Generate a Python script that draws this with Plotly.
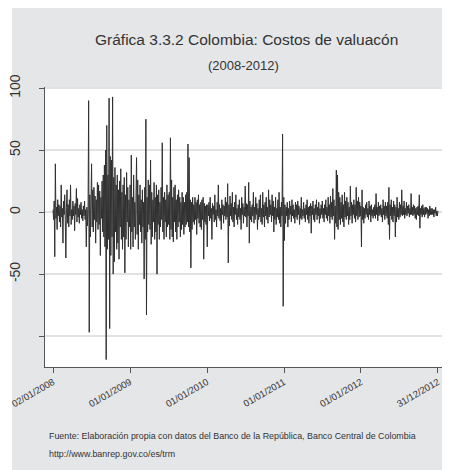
import pandas as pd
import plotly.graph_objects as go

v2008 = [2, -6, 9, -36, 39, -5, 4, -14, 10, -3, 6,
         -8, 5, -12, 22, -4, 3, -25, 9, -2, 14, -7,
         -37, 4, 18, -9, 6, -12, 10, -3, 22, -10, 2,
         -6, 9, -3, 5, -15, 7, -2, 19, -8, 11, -4,
         3, -9, 6, -2, 8, -5, 2, -7, 5, -3, 9,
         -6, 2, -28, 4, -11, 2, 90, -97, 14, -20, 8,
         39, -12, 18, -16, 20, -6, 13, -25, 10, -8, 24,
         -14, 22, -10, 17, -35, 12, -5, 25, -16, 30, -20,
         38, -28, 50, -119, 70, -30, 30, -22, 92, -94, 45,
         -35, 42, -20, 93, -50, 28, -40, 36, -16, 22, -30,
         30, -25, 18, -38, 25, -12, 35, -22, 16, -30, 22,
         -20, 28, -49, 14, -22, 32, -8, 20, -28, 10, -12]
v2009 = [22, -30, 46, -16, 12, -28, 30, -12, 8, -22, 18,
         44, -18, 26, -30, 14, -10, 22, -16, 10, -25, 18,
         -12, 8, -54, 20, -22, 75, -83, 12, -16, 26, -10,
         22, -14, 42, -26, 16, -20, 10, -8, 24, -22, 12,
         -16, 22, -50, 14, -10, 18, -22, 8, -12, 20, -6,
         56, -16, 12, -22, 16, -8, 10, -20, 22, -12, 14,
         -10, 16, -22, 60, -14, 26, -20, 12, -24, 20, -8,
         22, -16, 10, -22, 14, -12, 18, -8, 12, -20, 8,
         -14, 16, -10, 12, -18, 8, -12, 14, -10, 16, -8,
         55, -12, 44, -16, 10, -45, 8, -14, 12, -8, 6,
         -10, 12, -6, 8, -18, 10, -5, 14, -9, 6, -12,
         8, -14, 10, -6, 12, -38, 7, -8, 5, -10, 6]
v2010 = [-28, 6, -3, 8, -7, 12, -5, 3, -22, 7, -2,
         5, -8, 14, -6, 2, -12, 8, -3, 22, -5, 6,
         -7, 3, -14, 10, -2, 6, -9, 5, -3, 12, -6,
         8, -4, 23, -41, 6, -11, 13, -3, 7, -6, 16,
         -8, 4, -12, 8, -2, 14, -6, 3, -10, 6, -4,
         10, -6, 3, -14, 12, -2, 7, -9, 4, -3, 21,
         -4, 7, -12, 6, -3, 24, -25, 9, -6, 4, -8,
         6, -3, 16, -9, 4, -6, 12, -2, 7, -14, 3,
         -6, 10, -4, 14, -8, 3, -10, 16, -4, 6, -12,
         8, -3, 12, -6, 4, -9, 18, -4, 10, -2, 6,
         -8, 14, -3, 9, -16, 4, -6, 12, -10, 3, -4,
         10, -6, 16, -9, 4, -12, 8, -3, 63, -76, 12]
v2011 = [-23, 6, -9, 4, -3, 8, -12, 3, -6, 9, -2,
         5, -8, 10, -3, 6, -5, 2, -9, 8, -4, 6,
         -6, 9, -2, 5, -10, 3, -5, 12, -6, 2, -3,
         8, -5, 3, -8, 6, -2, 10, -6, 4, -9, 5,
         -3, 7, -17, 5, -2, 9, -6, 3, -8, 6, -2,
         10, -6, 4, -3, 8, -9, 3, -5, 6, -2, 9,
         -5, 3, -8, 6, -2, 10, -5, 4, -7, 12, -3,
         6, -9, 13, -4, 8, -6, 19, -3, 10, -22, 5,
         -9, 34, -12, 30, -14, 16, -6, 12, -10, 8, -5,
         14, -8, 6, -12, 16, -4, 9, -6, 12, -3, 8,
         -10, 4, -6, 21, -3, 8, -9, 6, -2, 10, -5,
         6, -8, 20, -3, 9, -6, 12, -4, 8, -3, 5]
v2012 = [-28, 18, -6, 4, -9, 3, -5, 6, -2, 8, -4,
         3, -6, 9, -2, 5, -8, 6, -3, 2, -5, 4,
         -3, 6, -5, 15, -2, 4, -7, 8, -3, 5, -2,
         6, -4, 3, -8, 10, -2, 5, -6, 8, -3, 5,
         -5, 8, -10, 20, -22, 6, -3, 10, -6, 4, -8,
         9, -3, 6, -20, 4, -8, 12, -4, 3, -6, 8,
         -4, 6, -2, 18, -3, 5, -2, 9, -5, 3, -2,
         8, -3, 5, -1, 6, -4, 3, -2, 15, -2, 4,
         -3, 6, -2, 5, -5, 3, -6, 4, -2, 5, -3,
         14, -13, 3, -2, 5, -4, 6, -2, 3, -4, 4,
         -2, 4, -1, 3, -5, 2, -3, 5, -2, 3, -2,
         3, -2, 2, -4, 2, -1, 4, -3, 1, -3, 1]

values = v2008 + v2009 + v2010 + v2011 + v2012
dates = pd.date_range("2008-01-02", "2012-12-31", periods=len(values))

tick_dates = ["2008-01-02", "2009-01-01", "2010-01-01", "2011-01-01", "2012-01-01", "2012-12-31"]
tick_labels = ["02/01/2008", "01/01/2009", "01/01/2010", "01/01/2011", "01/01/2012", "31/12/2012"]
y_ticks = [-100, -50, 0, 50, 100]
y_labels = ["", "-50", "0", "50", "100"]

FONT = "Liberation Sans, Arial, Helvetica, sans-serif"
TXT = "#333333"

fig = go.Figure()
fig.add_trace(go.Scatter(x=dates, y=values, mode="lines",
                         line=dict(color="#303030", width=1), hoverinfo="skip"))

# figure is drawn 8px in from the window's top-left corner
L, R, T, B = 37, 12, 79, 111
W, H = 450, 470
pw, ph = W - L - R, H - T - B

def fx(px):
    return (px - L) / pw

def fy(py):
    return (H - B - py) / ph

fig.add_shape(type="rect", xref="paper", yref="paper", layer="below",
              x0=fx(-2), x1=fx(4), y0=fy(H + 2), y1=fy(-2),
              fillcolor="white", line=dict(width=0))

fig.update_layout(
    width=W, height=H,
    margin=dict(l=L, r=R, t=T, b=B),
    paper_bgcolor="#e5e6e8", plot_bgcolor="white",
    showlegend=False,
    font=dict(family=FONT, color=TXT),
)
fig.update_xaxes(type="date", range=["2007-11-25", "2013-02-07"],
                 tickvals=tick_dates, ticktext=tick_labels, tickangle=-30,
                 ticks="outside", ticklen=5, tickcolor="#555555",
                 showgrid=False, zeroline=False, automargin=False,
                 showline=True, linecolor="#555555", linewidth=1,
                 tickfont=dict(family=FONT, size=9.5, color=TXT))
fig.update_yaxes(range=[-125, 101], tickvals=y_ticks, ticktext=y_labels, tickangle=-90,
                 ticks="outside", ticklen=5, tickcolor="#555555",
                 ticklabelstandoff=13, automargin=False,
                 showgrid=True, gridcolor="#e2e2e2", gridwidth=1.5, zeroline=False,
                 showline=True, linecolor="#555555", linewidth=1,
                 tickfont=dict(family=FONT, size=14, color=TXT))

fig.add_annotation(text="Gráfica 3.3.2 Colombia: Costos de valuacón", xref="paper", yref="paper",
                   x=fx(238), y=fy(32), xanchor="center", yanchor="middle", showarrow=False,
                   font=dict(family=FONT, size=15.5, color=TXT))
fig.add_annotation(text="(2008-2012)", xref="paper", yref="paper",
                   x=fx(235), y=fy(57), xanchor="center", yanchor="middle", showarrow=False,
                   font=dict(family=FONT, size=13, color=TXT))
fig.add_annotation(text="Fuente: Elaboración propia con datos del Banco de la República, Banco Central de Colombia",
                   xref="paper", yref="paper", x=fx(39), y=fy(428), xanchor="left", yanchor="middle",
                   showarrow=False, font=dict(family=FONT, size=8.9, color=TXT))
fig.add_annotation(text="http://www.banrep.gov.co/es/trm",
                   xref="paper", yref="paper", x=fx(39), y=fy(446), xanchor="left", yanchor="middle",
                   showarrow=False, font=dict(family=FONT, size=8.9, color=TXT))

fig.write_html("out.html")
